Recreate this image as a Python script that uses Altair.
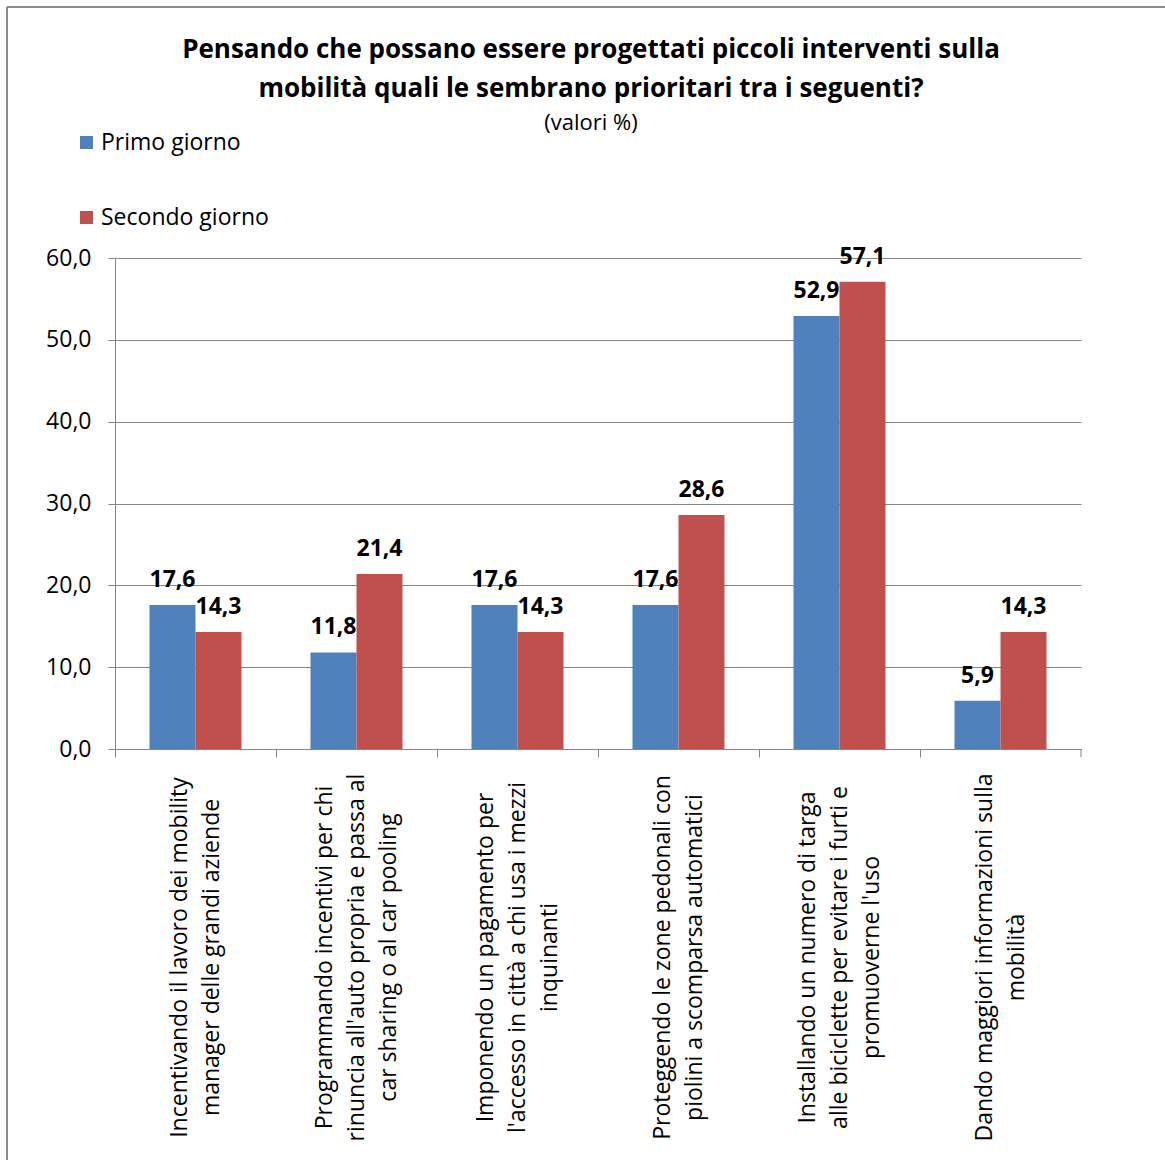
import altair as alt
import pandas as pd

categories = [
    "Incentivando il lavoro dei mobility\nmanager delle grandi aziende",
    "Programmando incentivi per chi\nrinuncia all'auto propria e passa al\ncar sharing o al car pooling",
    "Imponendo un pagamento per\nl'accesso in città a chi usa i mezzi\ninquinanti",
    "Proteggendo le zone pedonali con\npiolini a scomparsa automatici",
    "Installando un numero di targa\nalle biciclette per evitare i furti e\npromuoverne l'uso",
    "Dando maggiori informazioni sulla\nmobilità",
]
series = ["Primo giorno", "Secondo giorno"]
primo = [17.6, 11.8, 17.6, 17.6, 52.9, 5.9]
secondo = [14.3, 21.4, 14.3, 28.6, 57.1, 14.3]
colors = ["#4F81BD", "#C0504D"]
y_ticks = [0, 10, 20, 30, 40, 50, 60]

rows = []
for c, a, b in zip(categories, primo, secondo):
    rows.append({"cat": c, "serie": series[0], "val": a})
    rows.append({"cat": c, "serie": series[1], "val": b})
df = pd.DataFrame(rows)
df["lab"] = df["val"].map(lambda v: f"{v:.1f}".replace(".", ","))

FONT = "Open Sans"
W, H = 966, 491
GRID = "#868686"
LH = 32

x_enc = alt.X(
    "cat:N",
    sort=categories,
    title=None,
    scale=alt.Scale(paddingInner=0, paddingOuter=0),
    axis=alt.Axis(
        bandPosition=0,
        labelOffset=alt.condition(
            "length(split(datum.label, '\\n')) == 3", alt.value(-LH), alt.value(-LH / 2)
        ),
        labelAngle=270,
        labelAlign="center",
        labelBaseline="middle",
        labelPadding=200,
        labelExpr="split(datum.label, '\\n')",
        labelLineHeight=LH,
        labelFontSize=23,
        labelFont=FONT,
        labelColor="#000000",
        labelLimit=0,
        domainColor=GRID,
        tickColor=GRID,
        tickSize=8,
        grid=False,
    ),
)
xoff = alt.XOffset("serie:N", sort=series, scale=alt.Scale(paddingInner=0, paddingOuter=0.75))
y_enc = alt.Y(
    "val:Q",
    title=None,
    scale=alt.Scale(domain=[0, 60], nice=False),
    axis=alt.Axis(
        values=y_ticks,
        labelExpr="replace(format(datum.value, '.1f'), '.', ',')",
        labelFontSize=23,
        labelFont=FONT,
        labelColor="#000000",
        labelPadding=17,
        domainColor=GRID,
        tickColor=GRID,
        tickSize=7,
        gridColor=GRID,
        gridWidth=1,
    ),
)

base = alt.Chart(df)

bars = base.mark_bar().encode(
    x=x_enc,
    xOffset=xoff,
    y=y_enc,
    color=alt.Color(
        "serie:N",
        sort=series,
        scale=alt.Scale(domain=series, range=colors),
        legend=alt.Legend(
            title=None,
            orient="none",
            legendX=-40,
            legendY=-127,
            direction="vertical",
            symbolType="square",
            symbolSize=169,
            symbolStrokeWidth=0,
            labelFontSize=23,
            labelFont=FONT,
            labelColor="#000000",
            labelOffset=3,
            labelLimit=0,
            rowPadding=51,
        ),
    ),
)

texts = base.mark_text(
    baseline="bottom", dy=-13, fontSize=23, fontWeight="bold", font=FONT, color="#000000"
).encode(x=alt.X("cat:N", sort=categories), xOffset=xoff, y="val:Q", text="lab:N")

frame_df = pd.DataFrame({"k": [0]})
frame_top = alt.Chart(frame_df).mark_rule(color="#8c8c8c", strokeWidth=2).encode(
    x=alt.value(-108), x2=alt.value(W + 84), y=alt.value(-251)
)
frame_left = alt.Chart(frame_df).mark_rule(color="#8c8c8c", strokeWidth=2).encode(
    x=alt.value(-108), y=alt.value(-251), y2=alt.value(H + 411)
)
end_tick = alt.Chart(frame_df).mark_rule(color=GRID, strokeWidth=1).encode(
    x=alt.value(W), y=alt.value(H), y2=alt.value(H + 8)
)

chart = (
    alt.layer(bars, texts, frame_top, frame_left, end_tick)
    .properties(
        width=W,
        height=H,
        autosize=alt.AutoSizeParams(type="none"),
        padding={"left": 115, "top": 258, "right": 84, "bottom": 411},
        title=alt.TitleParams(
            text=[
                "Pensando che possano  essere progettati piccoli interventi sulla",
                "mobilità quali le sembrano prioritari tra i seguenti?",
            ],
            subtitle="(valori %)",
            anchor="middle",
            dx=-7,
            font=FONT,
            fontSize=26,
            fontWeight="bold",
            color="#000000",
            lineHeight=39,
            subtitleFont=FONT,
            subtitleFontSize=22,
            subtitleColor="#000000",
            subtitlePadding=11,
            offset=-128,
        ),
        background="#ffffff",
    )
    .configure_view(stroke=None)
)

chart.save("out.html", embed_options={"renderer": "svg", "actions": False})
